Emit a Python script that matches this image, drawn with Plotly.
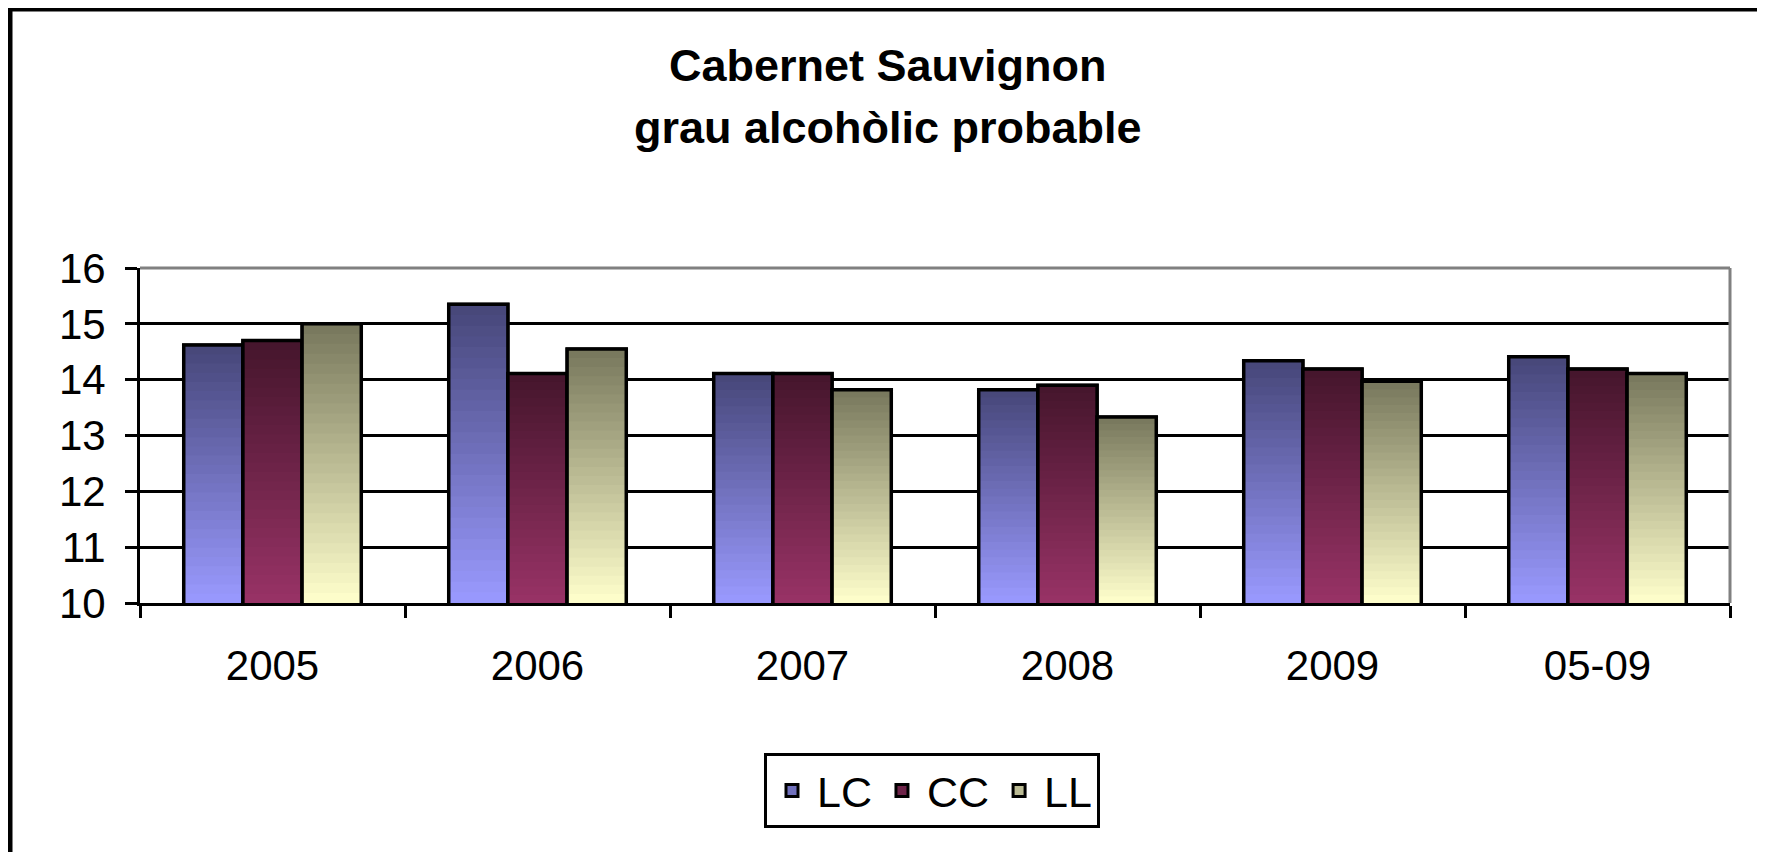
import plotly.graph_objects as go

# ─── Data ─────────────────────────────────────────────────────────────────────
categories = ["2005", "2006", "2007", "2008", "2009", "05-09"]
series_names = ["LC", "CC", "LL"]
lc_values = [14.62, 15.35, 14.11, 13.82, 14.34, 14.41]
cc_values = [14.70, 14.11, 14.11, 13.90, 14.19, 14.19]
ll_values = [15.00, 14.55, 13.82, 13.33, 13.97, 14.11]
y_ticks = [10, 11, 12, 13, 14, 15, 16]

# ─── Style ────────────────────────────────────────────────────────────────────
FONT = "Liberation Sans, Arial, sans-serif"
Y_MIN, Y_MAX = 10, 16
N_STEPS = 28  # vertical gradient steps per bar

# (top colour, bottom colour) of the Excel-style gradient
GRADIENTS = {
    "LC": ((0x46, 0x46, 0x78), (0x9A, 0x9A, 0xFF)),
    "CC": ((0x44, 0x15, 0x2C), (0x99, 0x33, 0x66)),
    "LL": ((0x77, 0x77, 0x5C), (0xFF, 0xFF, 0xCC)),
}


def mix(top, bottom, t):
    """t=0 -> bottom colour, t=1 -> top colour."""
    r, g, b = (round(bottom[i] + (top[i] - bottom[i]) * t) for i in range(3))
    return f"rgb({r},{g},{b})"


fig = go.Figure()

for name, values in zip(series_names, [lc_values, cc_values, ll_values]):
    top, bottom = GRADIENTS[name]

    # real data bar: legend swatch + hover
    fig.add_trace(go.Bar(
        name=name, x=categories, y=values,
        offsetgroup=name,
        marker=dict(color=mix(top, bottom, 0.5), line=dict(color="black", width=3)),
        hovertemplate=f"<b>{name}</b> %{{x}}<br>%{{y:.2f}}<extra></extra>",
    ))

    # gradient fill, drawn over the bar interior
    for k in range(N_STEPS):
        frac = k / N_STEPS
        fig.add_trace(go.Bar(
            x=categories,
            base=[Y_MIN + (v - Y_MIN) * frac for v in values],
            y=[(v - Y_MIN) * (1 - frac) for v in values],
            offsetgroup=name,
            marker=dict(color=mix(top, bottom, (k + 0.5) / N_STEPS), line=dict(width=0)),
            showlegend=False, hoverinfo="skip",
        ))

    # black outline on top
    fig.add_trace(go.Bar(
        x=categories, y=values, offsetgroup=name,
        marker=dict(color="rgba(0,0,0,0)", line=dict(color="black", width=3.5)),
        showlegend=False, hoverinfo="skip",
    ))

# ─── Layout ───────────────────────────────────────────────────────────────────
# the page body adds an 8px margin, so work in window pixels and shift back
OFF = 8
PLOT_L, PLOT_R, PLOT_T, PLOT_B = 140, 1730, 268, 603
W_PLOT = PLOT_R - PLOT_L
H_PLOT = PLOT_B - PLOT_T
L, T = PLOT_L - OFF, PLOT_T - OFF
R, B = 1765 - L - W_PLOT, 852 - T - H_PLOT


def px_x(x):
    return (x - PLOT_L) / W_PLOT


def px_y(y):
    return (PLOT_B - y) / H_PLOT


fig.update_layout(
    width=1765, height=852,
    paper_bgcolor="white", plot_bgcolor="white",
    font=dict(family=FONT, color="black", size=42),
    margin=dict(l=L, r=R, t=T, b=B),
    barmode="group", bargap=0.33, bargroupgap=0,
    showlegend=True,
    legend=dict(
        orientation="h", x=px_x(932), xanchor="center", y=px_y(753), yanchor="top",
        font=dict(size=43), bgcolor="white",
        bordercolor="black", borderwidth=3,
        itemwidth=40, traceorder="normal",
    ),
    xaxis=dict(
        type="category", tickson="boundaries",
        ticks="outside", ticklen=12, tickwidth=2.5, tickcolor="black",
        showline=True, linecolor="black", linewidth=3,
        showgrid=False, ticklabelstandoff=24,
        tickfont=dict(size=42),
    ),
    yaxis=dict(
        range=[Y_MIN, Y_MAX], tickvals=y_ticks,
        ticks="outside", ticklen=12, tickwidth=3, tickcolor="black",
        showline=True, linecolor="black", linewidth=3,
        showgrid=True, gridcolor="black", gridwidth=3,
        zeroline=False, ticklabelstandoff=11,
        tickfont=dict(size=42),
    ),
    annotations=[
        dict(text="<b>Cabernet Sauvignon</b>", xref="paper", yref="paper",
             x=px_x(888), y=px_y(65), xanchor="center", yanchor="middle",
             showarrow=False, font=dict(size=45)),
        dict(text="<b>grau alcohòlic probable</b>", xref="paper", yref="paper",
             x=px_x(888), y=px_y(127), xanchor="center", yanchor="middle",
             showarrow=False, font=dict(size=45)),
    ],
    shapes=[
        # grey top / right border of the plot area
        dict(type="line", xref="paper", yref="paper", x0=0, x1=1, y0=1, y1=1,
             line=dict(color="#808080", width=3)),
        dict(type="line", xref="paper", yref="paper", x0=1, x1=1, y0=0, y1=1,
             line=dict(color="#808080", width=3)),
        # outer chart frame
        dict(type="rect", xref="paper", yref="paper",
             x0=px_x(10), x1=px_x(1760), y0=px_y(920), y1=px_y(9),
             line=dict(color="black", width=5), layer="above"),
    ],
)

fig.write_html("out.html")
